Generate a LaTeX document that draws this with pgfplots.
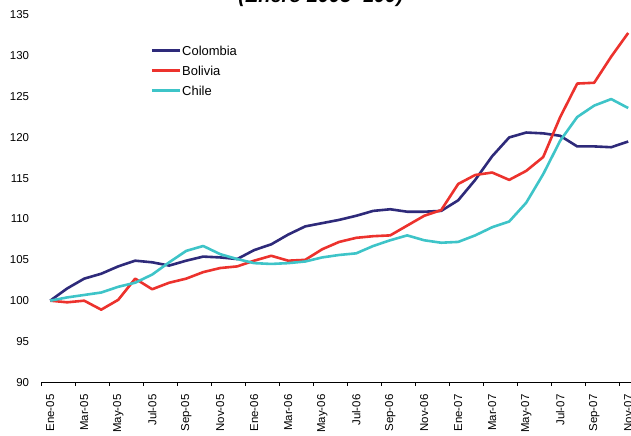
\documentclass[border=0pt]{standalone}
\usepackage{fontspec}
\setmainfont{Liberation Sans}
\usepackage{pgfplots}
\usepackage{pgfplotstable}
\pgfplotsset{compat=1.18}

\definecolor{colombia}{RGB}{46,42,122}
\definecolor{bolivia}{RGB}{236,50,45}
\definecolor{chile}{RGB}{62,196,200}

% Monthly index, Enero 2005 = 100 (m = 0 is Ene-05)
\pgfplotstableread{
m  col    bol    chi
0  100.0  100.0  100.0
1  101.5   99.8  100.4
2  102.7  100.0  100.7
3  103.3   98.9  101.0
4  104.2  100.1  101.7
5  104.9  102.7  102.2
6  104.7  101.4  103.2
7  104.3  102.2  104.7
8  104.9  102.7  106.1
9  105.4  103.5  106.7
10 105.3  104.0  105.7
11 105.1  104.2  105.1
12 106.2  104.9  104.6
13 106.9  105.5  104.5
14 108.1  104.9  104.6
15 109.1  105.0  104.8
16 109.5  106.3  105.3
17 109.9  107.2  105.6
18 110.4  107.7  105.8
19 111.0  107.9  106.7
20 111.2  108.0  107.4
21 110.9  109.2  108.0
22 110.9  110.4  107.4
23 111.0  111.1  107.1
24 112.3  114.3  107.2
25 114.8  115.4  108.0
26 117.7  115.7  109.0
27 120.0  114.8  109.7
28 120.6  115.9  112.0
29 120.5  117.6  115.5
30 120.2  122.5  119.6
31 118.9  126.6  122.5
32 118.9  126.7  123.9
33 118.8  129.9  124.7
34 119.5  132.8  123.6
}\indexdata

\begin{document}
\begin{tikzpicture}
\begin{axis}[
  at={(0,0)}, anchor=south west,
  scale only axis, width=595bp, height=367.3bp,
  xmin=-0.5, xmax=34.5, ymin=90, ymax=135,
  axis x line*=bottom, axis y line*=left,
  axis line style={black, line width=1.6bp},
  y axis line style={draw=none},
  xtick={0,2,...,34},
  xticklabels={Ene-05,Mar-05,May-05,Jul-05,Sep-05,Nov-05,
               Ene-06,Mar-06,May-06,Jul-06,Sep-06,Nov-06,
               Ene-07,Mar-07,May-07,Jul-07,Sep-07,Nov-07},
  minor xtick={-0.5,1.5,...,34.5},
  ytick={90,95,...,135},
  major tick length=0pt, minor tick length=3.5bp,
  tick align=outside,
  minor tick style={black, line width=1.2bp},
  /pgf/number format/assume math mode=true,
  xticklabel style={rotate=90, anchor=east, inner sep=0pt,
                    font=\fontsize{11.5}{13}\selectfont},
  yticklabel style={inner sep=0pt, font=\fontsize{11.5}{13}\selectfont},
  xticklabel shift=12bp, yticklabel shift=12.4bp,
  legend style={at={(axis description cs:0.1827,0.8484)}, anchor=west,
                draw=none, fill=none, inner sep=0pt,
                font=\fontsize{13}{15}\selectfont,
                nodes={inner sep=0pt, text height=9.5bp, text depth=0pt},
                row sep=10.5bp, column sep=1bp},
  legend cell align=left,
  legend image code/.code={\draw[#1] (0bp,0bp) -- (28bp,0bp);},
  every axis plot/.append style={line width=2.6bp, line join=round},
]
\addplot[colombia] table[x=m, y=col] {\indexdata};
\addlegendentry{Colombia}
\addplot[bolivia] table[x=m, y=bol] {\indexdata};
\addlegendentry{Bolivia}
\addplot[chile] table[x=m, y=chi] {\indexdata};
\addlegendentry{Chile}
\end{axis}
\node[anchor=base, font=\fontsize{20}{24}\selectfont\bfseries\itshape]
  at (279bp,380bp) {(Enero 2005=100)};
\pgfresetboundingbox
\useasboundingbox (-41.7bp,-53.7bp) rectangle (589.3bp,382.3bp);
\end{tikzpicture}
\end{document}
